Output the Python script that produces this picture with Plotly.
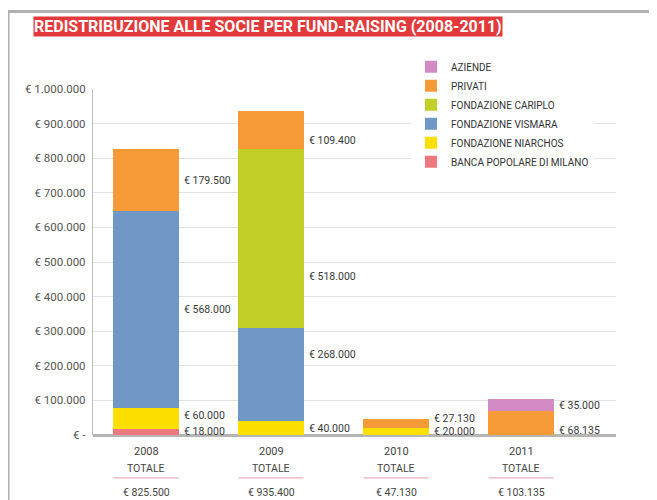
import plotly.graph_objects as go

# ---------------- data ----------------
years = ["2008", "2009", "2010", "2011"]
series_names = ["BANCA POPOLARE DI MILANO", "FONDAZIONE NIARCHOS", "FONDAZIONE VISMARA",
                "FONDAZIONE CARIPLO", "PRIVATI", "AZIENDE"]
bpm = [18000, None, None, None]
niarchos = [60000, 40000, 20000, None]
vismara = [568000, 268000, None, None]
cariplo = [None, 518000, None, None]
privati = [179500, 109400, 27130, 68135]
aziende = [None, None, None, 35000]
y_ticks = [0, 100000, 200000, 300000, 400000, 500000, 600000, 700000, 800000, 900000, 1000000]
title_text = "REDISTRIBUZIONE ALLE SOCIE PER FUND-RAISING (2008-2011)"
totale_label = "TOTALE"

series_values = [bpm, niarchos, vismara, cariplo, privati, aziende]
colors = ["#ee7880", "#fde000", "#7098c6", "#c2cf28", "#f59a36", "#d18ac3"]


def fmt(v):
    return f"{v:,}".replace(",", ".")


y_tick_labels = ["€ -" if v == 0 else "€ " + fmt(v) for v in y_ticks]

FONT = "Roboto, Open Sans, sans-serif"
fig = go.Figure()
for name, vals, col in zip(series_names, series_values, colors):
    fig.add_trace(go.Bar(x=list(range(len(years))), y=vals, name=name,
                         marker=dict(color=col, line=dict(width=0)),
                         width=0.53, hoverinfo="skip"))

# segment labels
label_shift = {("FONDAZIONE CARIPLO", 1): -38, ("FONDAZIONE VISMARA", 1): 20,
               ("PRIVATI", 1): -10, ("PRIVATI", 2): 5, ("PRIVATI", 3): -7,
               ("BANCA POPOLARE DI MILANO", 0): 0, ("FONDAZIONE NIARCHOS", 0): 3}
annotations = []
base = [0] * len(years)
for name, vals in zip(series_names, series_values):
    for i, v in enumerate(vals):
        if v is None:
            continue
        mid = base[i] + v / 2
        base[i] += v
        annotations.append(dict(x=i + 0.265, y=mid, xref="x", yref="y", text="€ " + fmt(v),
                                showarrow=False, xanchor="left", yanchor="middle", xshift=3,
                                yshift=label_shift.get((name, i), 0),
                                font=dict(family=FONT, size=10.5, color="#3a3a3a")))

# bottom labels
shapes = []
for i, yr in enumerate(years):
    total = sum(v for v in (s[i] for s in series_values) if v is not None)
    annotations.append(dict(x=i, y=-0.049, xref="x", yref="paper", text=yr, showarrow=False,
                            yanchor="middle", font=dict(family=FONT, size=11, color="#444")))
    annotations.append(dict(x=i, y=-0.098, xref="x", yref="paper", text=totale_label, showarrow=False,
                            yanchor="middle", font=dict(family=FONT, size=10.5, color="#444")))
    annotations.append(dict(x=i, y=-0.165, xref="x", yref="paper", text="€ " + fmt(total), showarrow=False,
                            yanchor="middle", font=dict(family=FONT, size=10.5, color="#444")))
    shapes.append(dict(type="line", xref="x", yref="paper", x0=i - 0.26, x1=i + 0.26,
                       y0=-0.124, y1=-0.124, line=dict(color="#eab0b6", width=1.2)))

# title
annotations.append(dict(x=-0.1147, y=1.181, xref="paper", yref="paper", text="<b>" + title_text + "</b>",
                        showarrow=False, xanchor="left", yanchor="middle", bgcolor="#e23a3a",
                        borderpad=0, font=dict(family=FONT, size=16, color="white")))

# frame
shapes.append(dict(type="rect", xref="paper", yref="paper", x0=-0.1625, x1=1.3, y0=-0.4, y1=1.224,
                   line=dict(color="#b0b0b0", width=3), fillcolor="rgba(0,0,0,0)", layer="below"))

# page body has an 8px margin, so margins are reduced by 8px to land on the reference positions
fig.update_layout(
    barmode="stack",
    width=657, height=500,
    margin=dict(l=85, r=49, t=81, b=73),
    paper_bgcolor="white", plot_bgcolor="white",
    showlegend=True,
    legend=dict(x=0.608, y=1.106, xanchor="left", yanchor="top", traceorder="reversed",
                bgcolor="white", font=dict(family=FONT, size=10, color="#333"),
                itemclick=False, itemdoubleclick=False),
    xaxis=dict(range=[-0.424, 3.76], showticklabels=False, showgrid=False, zeroline=False,
               showline=False, fixedrange=True),
    yaxis=dict(range=[0, 1000000], tickvals=y_ticks, ticktext=y_tick_labels,
               showgrid=True, gridcolor="#e3e3e3", gridwidth=1,
               zeroline=True, zerolinecolor="#b5b5b5", zerolinewidth=2.5,
               showline=True, linecolor="#bdbdbd", linewidth=1.2,
               ticks="", ticklabelstandoff=4,
               tickfont=dict(family=FONT, size=11.5, color="#555"), fixedrange=True),
    annotations=annotations,
    shapes=shapes,
    font=dict(family=FONT),
)

fig.write_html("out.html")
